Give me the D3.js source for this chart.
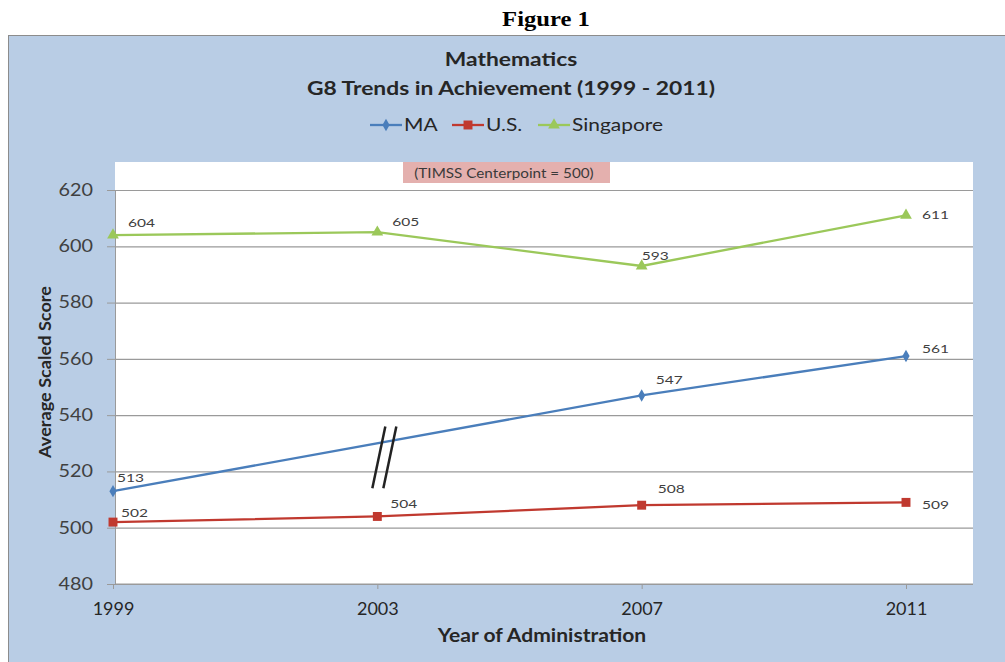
<!DOCTYPE html>
<html>
<head>
<meta charset="utf-8">
<script src="https://cdn.jsdelivr.net/npm/d3@7"></script>
<style>
  body { margin: 0; background: #fff; }
  text { font-family: Lato, "Open Sans", sans-serif; }
</style>
</head>
<body>
<div id="chart"></div>
<script>
// Data
var years = ["1999", "2003", "2007", "2011"];
var maScores = [513, null, 547, 561];
var usScores = [502, 504, 508, 509];
var sgScores = [604, 605, 593, 611];
var yTicks = [480, 500, 520, 540, 560, 580, 600, 620];

var series = [
  {name: "MA", values: maScores, color: "#4a7ebb", marker: "diamond"},
  {name: "U.S.", values: usScores, color: "#c0392f", marker: "square"},
  {name: "Singapore", values: sgScores, color: "#9bc85a", marker: "triangle"}
];

// label offsets (dx, dy) from each point, per series
var labelOffsets = [
  [[4, -9], null, [14, -11], [16, -3]],
  [[8, -5], [13, -8], [16, -12], [16, 7]],
  [[15, -8], [15, -6], [0, -6], [16, 4]]
];

var W = 1005, H = 662;
var svg = d3.select("#chart").append("svg")
    .attr("width", W).attr("height", H);

// the source picture is stretched sideways, so text gets a horizontal scale
function addText(parent, x, y, sx, str) {
  return parent.append("text")
      .attr("transform", "translate(" + x + "," + y + ") scale(" + sx + ",1)")
      .text(str);
}

// Figure caption
addText(svg, 546, 26, 1.12, "Figure 1")
    .attr("text-anchor", "middle")
    .style("font-family", "'Liberation Serif', 'DejaVu Serif', serif")
    .style("font-weight", "bold").style("font-size", "22px");

// Chart area background
svg.append("rect")
    .attr("x", 8.5).attr("y", 35.5).attr("width", 1005).attr("height", 640)
    .attr("fill", "#b9cde5").attr("stroke", "#8c8c8c");

// Plot area
var plot = {left: 115, top: 162, right: 973, bottom: 584};
svg.append("rect")
    .attr("x", plot.left).attr("y", plot.top)
    .attr("width", plot.right - plot.left).attr("height", plot.bottom - plot.top)
    .attr("fill", "#fff");

var x = d3.scalePoint().domain(years).range([113, 906]);
var y = d3.scaleLinear().domain([480, 620]).range([plot.bottom, 190]);

// Gridlines
svg.append("g")
    .attr("transform", "translate(" + plot.left + ",0)")
    .call(d3.axisLeft(y).tickValues(yTicks).tickSize(-(plot.right - plot.left)).tickFormat(""))
    .call(function(g) {
      g.select(".domain").remove();
      g.selectAll("line").attr("stroke", "#9a9a9a").attr("stroke-width", 1.2);
    });

// Y axis
var ySx = 1.2;
svg.append("g")
    .attr("transform", "translate(" + plot.left + ",0)")
    .call(d3.axisLeft(y).tickValues(yTicks).tickSize(8))
    .call(function(g) {
      g.select(".domain").attr("stroke", "#9a9a9a");
      g.selectAll("line").attr("stroke", "#9a9a9a");
      g.selectAll("text")
        .attr("x", -22 / ySx).attr("transform", "scale(" + ySx + ",1)")
        .style("font-size", "16.5px").attr("fill", "#404040")
        .style("font-family", "Lato, sans-serif");
    });

// X axis
svg.append("g")
    .attr("transform", "translate(0," + plot.bottom + ")")
    .call(d3.axisBottom(x).tickSize(5).tickPadding(13))
    .call(function(g) {
      g.select(".domain").attr("d", "M" + plot.left + ",0H" + plot.right).attr("stroke", "#9a9a9a");
      g.selectAll("line").attr("stroke", "#9a9a9a");
      g.selectAll("text").style("font-size", "18px").attr("fill", "#262626")
        .style("font-family", "Lato, sans-serif");
    });

// Axis titles
svg.append("text")
    .attr("transform", "translate(51,372) rotate(-90) scale(1.1,1)")
    .attr("text-anchor", "middle")
    .style("font-weight", "bold").style("font-size", "16.5px").attr("fill", "#262626")
    .text("Average Scaled Score");

addText(svg, 542, 642, 1.17, "Year of Administration")
    .attr("text-anchor", "middle")
    .style("font-weight", "bold").style("font-size", "18px").attr("fill", "#262626");

// Chart title
addText(svg, 511, 66, 1.17, "Mathematics")
    .attr("text-anchor", "middle")
    .style("font-weight", "bold").style("font-size", "19.5px").attr("fill", "#262626");
addText(svg, 511, 95, 1.17, "G8 Trends in Achievement (1999 - 2011)")
    .attr("text-anchor", "middle")
    .style("font-weight", "bold").style("font-size", "19.5px").attr("fill", "#262626");

// Centerpoint note
svg.append("rect")
    .attr("x", 403).attr("y", 162).attr("width", 207).attr("height", 21)
    .attr("fill", "#e4b0ae");
addText(svg, 504, 178, 1.22, "(TIMSS Centerpoint = 500)")
    .attr("text-anchor", "middle")
    .style("font-size", "12.5px").attr("fill", "#3a3a3a");

// Marker shapes
function markerPath(type) {
  if (type === "diamond") return d3.symbol().type(d3.symbolDiamond).size(45)();
  if (type === "square") return d3.symbol().type(d3.symbolSquare).size(80)();
  return d3.symbol().type(d3.symbolTriangle).size(60)();
}

var line = d3.line()
    .x(function(d) { return x(d.year); })
    .y(function(d) { return y(d.v); });

series.forEach(function(s, si) {
  var pts = s.values.map(function(v, i) { return {year: years[i], v: v, i: i}; });
  var drawn = pts.filter(function(d) { return d.v != null; });

  // gaps are bridged, like Excel's "connect data points with line"
  svg.append("path")
      .datum(drawn)
      .attr("d", line)
      .attr("fill", "none")
      .attr("stroke", s.color)
      .attr("stroke-width", 2.3);

  svg.selectAll(".m" + si)
      .data(drawn)
      .enter().append("path")
      .attr("transform", function(d) { return "translate(" + x(d.year) + "," + y(d.v) + ")"; })
      .attr("d", markerPath(s.marker))
      .attr("fill", s.color);

  drawn.forEach(function(d) {
    var off = labelOffsets[si][d.i];
    addText(svg, x(d.year) + off[0], y(d.v) + off[1], 1.35, d.v)
        .style("font-size", "11.5px").attr("fill", "#404040");
  });
});

// Axis break marks on the MA line at 2003
var bx = x("2003");
[0, 11].forEach(function(off) {
  svg.append("line")
      .attr("x1", bx - 5 + off).attr("y1", y(514))
      .attr("x2", bx + 8 + off).attr("y2", y(536))
      .attr("stroke", "#222").attr("stroke-width", 2.5);
});

// Legend
var legendX = [370, 452, 538];
series.forEach(function(s, i) {
  var g = svg.append("g").attr("transform", "translate(" + legendX[i] + ",125)");
  g.append("line").attr("x1", 0).attr("x2", 32).attr("stroke", s.color).attr("stroke-width", 2.3);
  g.append("path").attr("transform", "translate(16,0)").attr("d", markerPath(s.marker)).attr("fill", s.color);
  addText(g, 34, 6, 1.27, s.name)
      .style("font-size", "16.5px").attr("fill", "#262626");
});
</script>
</body>
</html>
